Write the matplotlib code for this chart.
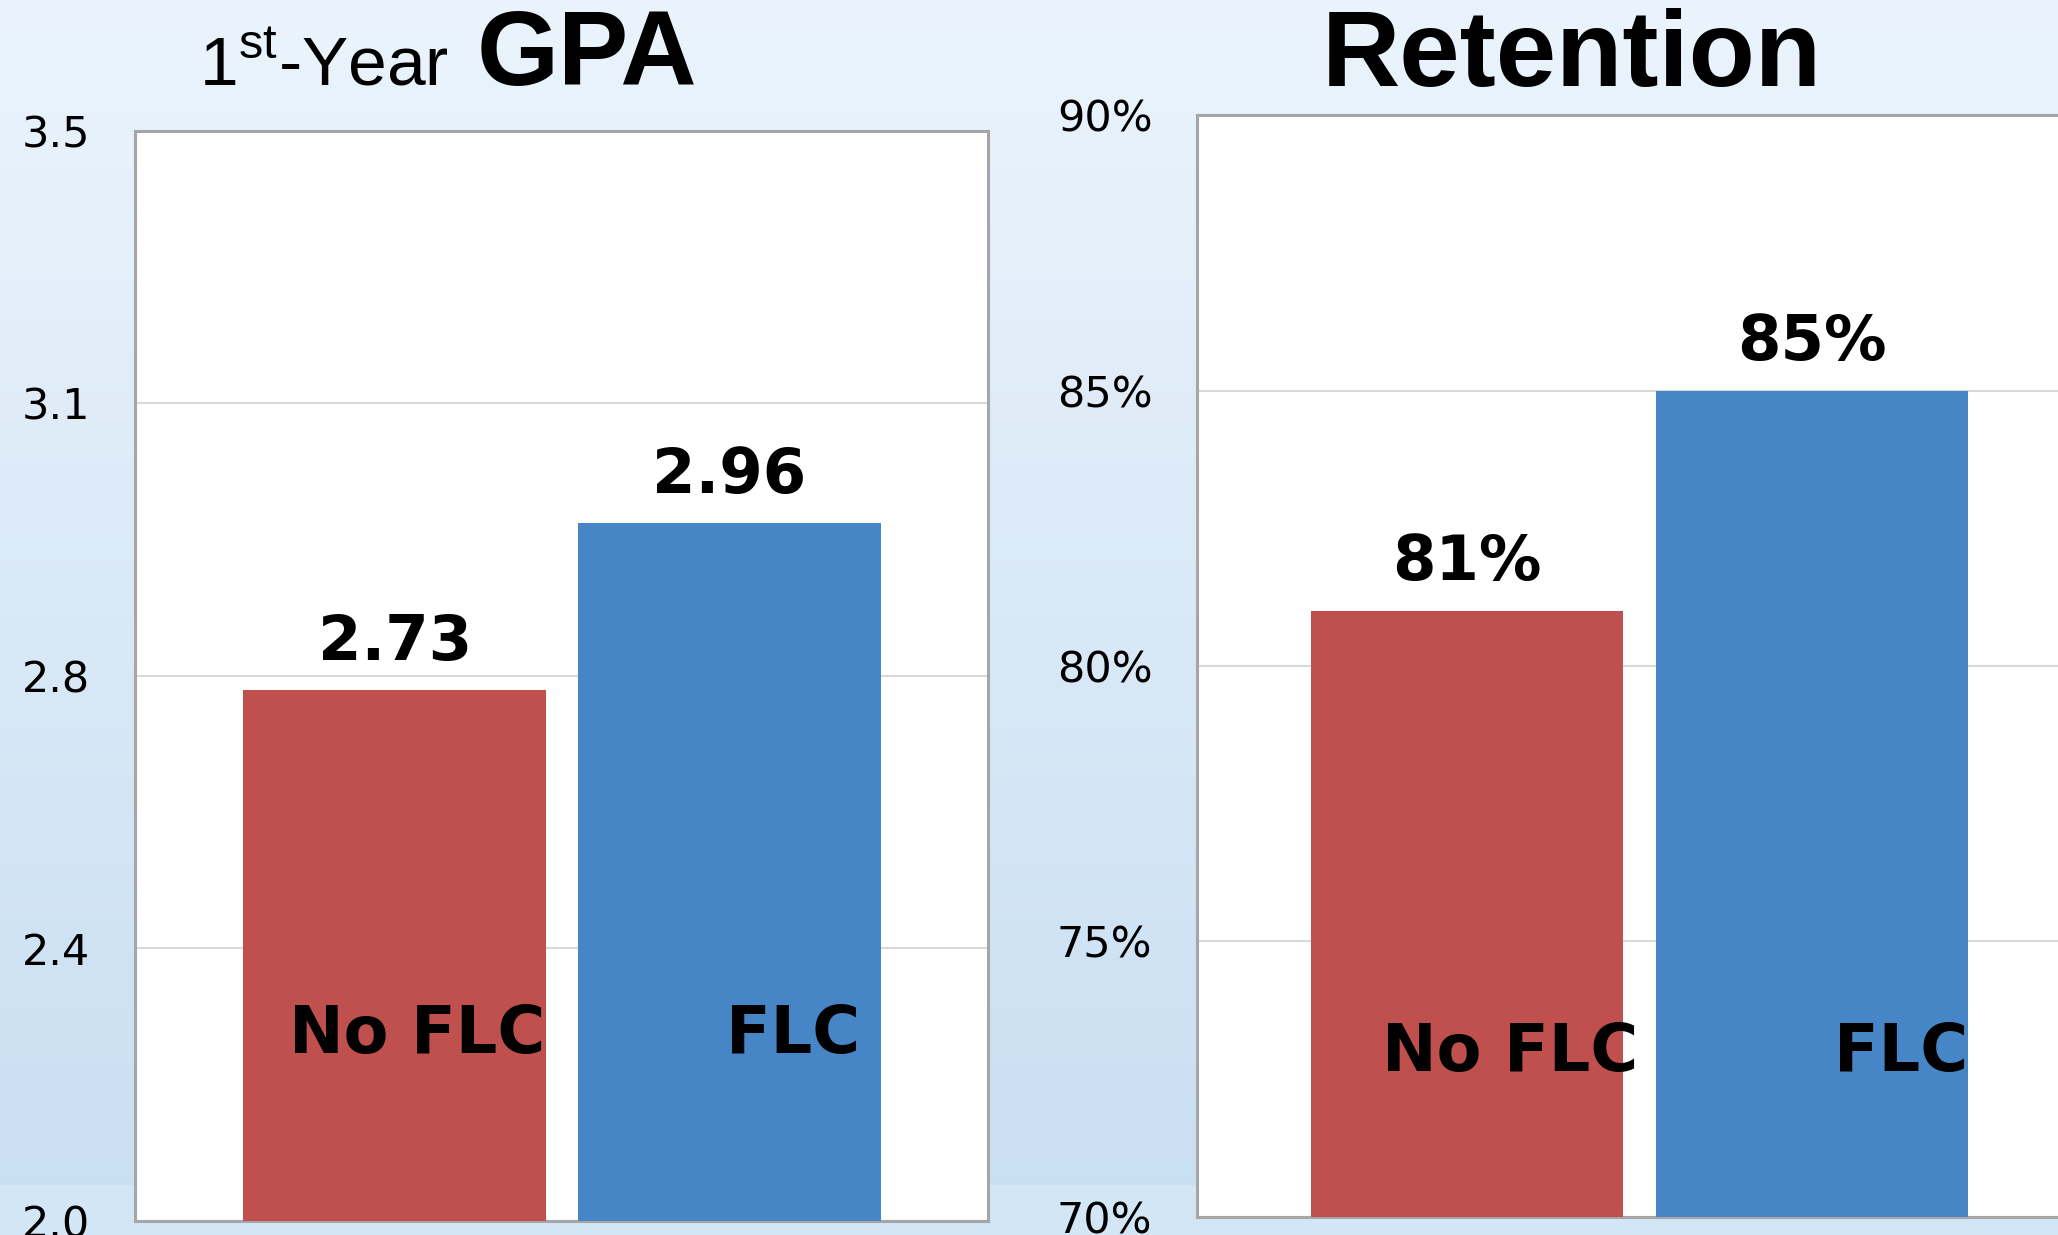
import numpy as np
import matplotlib.pyplot as plt

plt.rcParams['mathtext.fontset'] = 'custom'
plt.rcParams['mathtext.rm'] = 'Liberation Sans'

categories = ['No FLC', 'FLC']
gpa_values = [2.73, 2.96]
gpa_labels = ['2.73', '2.96']
gpa_ticks = [2.0, 2.375, 2.75, 3.125, 3.5]
gpa_ticklabels = ['2.0', '2.4', '2.8', '3.1', '3.5']

ret_values = [81, 85]
ret_labels = ['81%', '85%']
ret_ticks = [70, 75, 80, 85, 90]
ret_ticklabels = ['70%', '75%', '80%', '85%', '90%']

colores = ['#C0504D', '#4685C6']

fig = plt.figure(figsize=(20.58, 12.35), dpi=100)

# fondo degradado azul claro
fondo = fig.add_axes([0, 0, 1, 1], zorder=-10)
filas = 1235
t = np.linspace(0, 1, filas)[:, None]
arriba = np.array([235, 244, 252]) / 255
abajo = np.array([200, 222, 242]) / 255
grad = arriba + (abajo - arriba) * t
corte = int(filas * 0.96)
grad[corte:] = np.array([211, 230, 246]) / 255
grad = np.repeat(grad[:, None, :], 4, axis=1)
fondo.imshow(grad, aspect='auto', extent=[0, 1, 0, 1])
fondo.axis('off')


def dibujar(ax, valores, etiquetas, ticks, ticklabels, xlim, dx_cat, y_cat):
    x = np.arange(len(categories))
    ax.set_facecolor('white')
    ax.bar(x, valores, width=0.905, color=colores, zorder=3)
    ax.set_xlim(*xlim)
    ax.set_ylim(ticks[0], ticks[-1])
    ax.set_yticks(ticks)
    ax.set_yticklabels(ticklabels)
    ax.set_xticks([])
    ax.tick_params(axis='y', length=0, pad=32, labelsize=31)
    ax.yaxis.grid(True, color='#D9D9D9', lw=1.5)
    ax.set_axisbelow(True)
    for s in ax.spines.values():
        s.set_color('#A6A6A6')
        s.set_linewidth(2.2)
    for xi, v, lab in zip(x, valores, etiquetas):
        ax.annotate(lab, (xi, v), xytext=(0, 22), textcoords='offset points',
                    ha='center', va='baseline', fontsize=45, fontweight='bold', zorder=5)
    for xi, cat, dx in zip(x, categories, dx_cat):
        ax.text(xi + dx, y_cat, cat, ha='center', va='center',
                fontsize=47, fontweight='bold', zorder=5)


ax1 = fig.add_axes([0.0656, 0.0117, 0.4146, 0.8823])
dibujar(ax1, gpa_values, gpa_labels, gpa_ticks, gpa_ticklabels,
        (-0.776, 1.774), [0.067, 0.19], 2.255)

ax2 = fig.add_axes([0.5816, 0.0149, 0.43, 0.8916])
dibujar(ax2, ret_values, ret_labels, ret_ticks, ret_ticklabels,
        (-0.783, 1.783), [0.124, 0.258], 72.97)

# titulos
fig.text(0.0969, 0.931, r'1$^{\mathrm{st}}$-Year', fontsize=50, family='Liberation Sans',
         va='baseline', ha='left')
fig.text(0.2315, 0.931, 'GPA', fontsize=76, family='Liberation Sans', fontweight='bold',
         va='baseline', ha='left')
fig.text(0.7638, 0.930, 'Retention', fontsize=78, family='Liberation Sans', fontweight='bold',
         va='baseline', ha='center')

fig.savefig('out.png', dpi=100)
